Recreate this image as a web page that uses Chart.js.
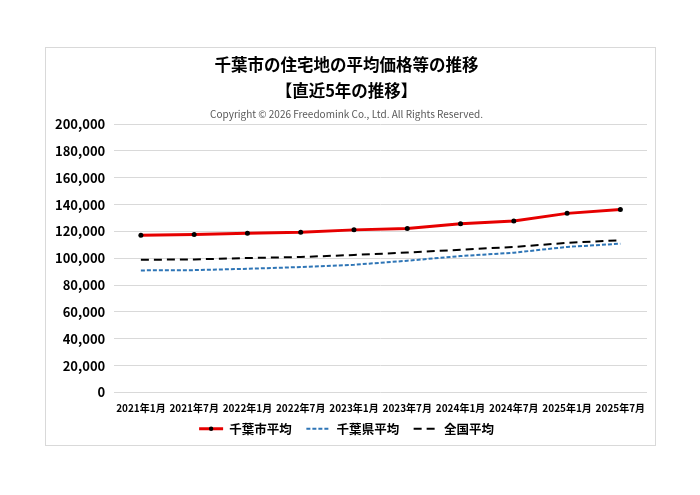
<!DOCTYPE html>
<html>
<head>
<meta charset="utf-8">
<script src="https://cdn.jsdelivr.net/npm/chart.js@4"></script>
<style>
  body { margin: 0; background: #fff; }
  #box {
    position: absolute; left: 45px; top: 47px;
    width: 609px; height: 397px;
    border: 1px solid #d9d9d9; background: #fff;
  }
</style>
</head>
<body>
<div id="box"><canvas id="chart"></canvas></div>
<script>
// ===== data =====
const labels = ["2021年1月", "2021年7月", "2022年1月", "2022年7月", "2023年1月",
                "2023年7月", "2024年1月", "2024年7月", "2025年1月", "2025年7月"];
const chibaCity = [117200, 117700, 118700, 119500, 121200, 122200, 125700, 127900, 133500, 136400];
const chibaPref = [91000, 91200, 92200, 93500, 95200, 98200, 101700, 104200, 108500, 110900];
const national  = [98900, 99200, 100200, 101000, 102500, 104300, 106400, 108500, 111500, 113500];

const FONT = "'Noto Sans CJK JP', 'Noto Sans', sans-serif";

// dot on the red legend line
const legendDot = {
  id: "legendDot",
  afterDraw(chart) {
    const box = chart.legend.legendHitBoxes[0];
    if (!box) return;
    const ctx = chart.ctx;
    ctx.save();
    ctx.fillStyle = "#000";
    ctx.beginPath();
    ctx.arc(box.left + 12, box.top + box.height / 2, 2.2, 0, Math.PI * 2);
    ctx.fill();
    ctx.restore();
  }
};

new Chart(document.getElementById("chart"), {
  type: "line",
  data: {
    labels: labels,
    datasets: [
      {
        label: "千葉市平均",
        data: chibaCity,
        borderColor: "#e60000",
        backgroundColor: "#e60000",
        borderWidth: 3,
        pointRadius: 2.5,
        pointBackgroundColor: "#000",
        pointBorderColor: "#000",
        pointBorderWidth: 0,
        tension: 0
      },
      {
        label: "千葉県平均",
        data: chibaPref,
        borderColor: "#2e75b6",
        backgroundColor: "#2e75b6",
        borderWidth: 2,
        borderDash: [4, 2],
        pointRadius: 0,
        tension: 0
      },
      {
        label: "全国平均",
        data: national,
        borderColor: "#000",
        backgroundColor: "#000",
        borderWidth: 2,
        borderDash: [8, 5],
        pointRadius: 0,
        tension: 0
      }
    ]
  },
  options: {
    responsive: true,
    maintainAspectRatio: false,
    animation: false,
    locale: "en-US",
    layout: { padding: { left: 0, right: 8, top: 4, bottom: 0 } },
    plugins: {
      title: {
        display: true,
        text: ["千葉市の住宅地の平均価格等の推移", "【直近5年の推移】"],
        color: "#000",
        font: { family: FONT, size: 16.5, weight: "bold", lineHeight: 1.58 },
        padding: { top: 0, bottom: 4 }
      },
      subtitle: {
        display: true,
        text: "Copyright © 2026 Freedomink Co., Ltd. All Rights Reserved.",
        color: "#595959",
        font: { family: FONT, size: 10 },
        padding: { top: 0, bottom: 4 }
      },
      legend: {
        position: "bottom",
        labels: {
          color: "#000",
          font: { family: FONT, size: 12.5, weight: "bold" },
          usePointStyle: true,
          pointStyle: "line",
          pointStyleWidth: 24,
          padding: 6,
          generateLabels(chart) {
            const last = chart.data.datasets.length - 1;
            return chart.data.datasets.map((ds, i) => ({
              // a little extra room after each item, like the original legend
              text: i < last ? ds.label + "   " : ds.label,
              datasetIndex: i,
              pointStyle: "line",
              strokeStyle: ds.borderColor,
              fillStyle: ds.borderColor,
              lineWidth: ds.borderWidth,
              lineDash: ds.borderDash || [],
              fontColor: "#000",
              hidden: false
            }));
          }
        }
      },
      tooltip: { enabled: false }
    },
    scales: {
      x: {
        offset: true,
        grid: { display: false },
        border: { display: false },
        ticks: {
          color: "#000",
          padding: 2,
          font: { family: FONT, size: 10, weight: "bold" },
          maxRotation: 0,
          autoSkip: false
        }
      },
      y: {
        min: 0,
        max: 200000,
        border: { display: false },
        grid: { color: "#d9d9d9", drawTicks: false },
        ticks: {
          stepSize: 20000,
          color: "#000",
          padding: 9,
          font: { family: FONT, size: 13, weight: "bold" }
        }
      }
    }
  },
  plugins: [legendDot]
});
</script>
</body>
</html>
